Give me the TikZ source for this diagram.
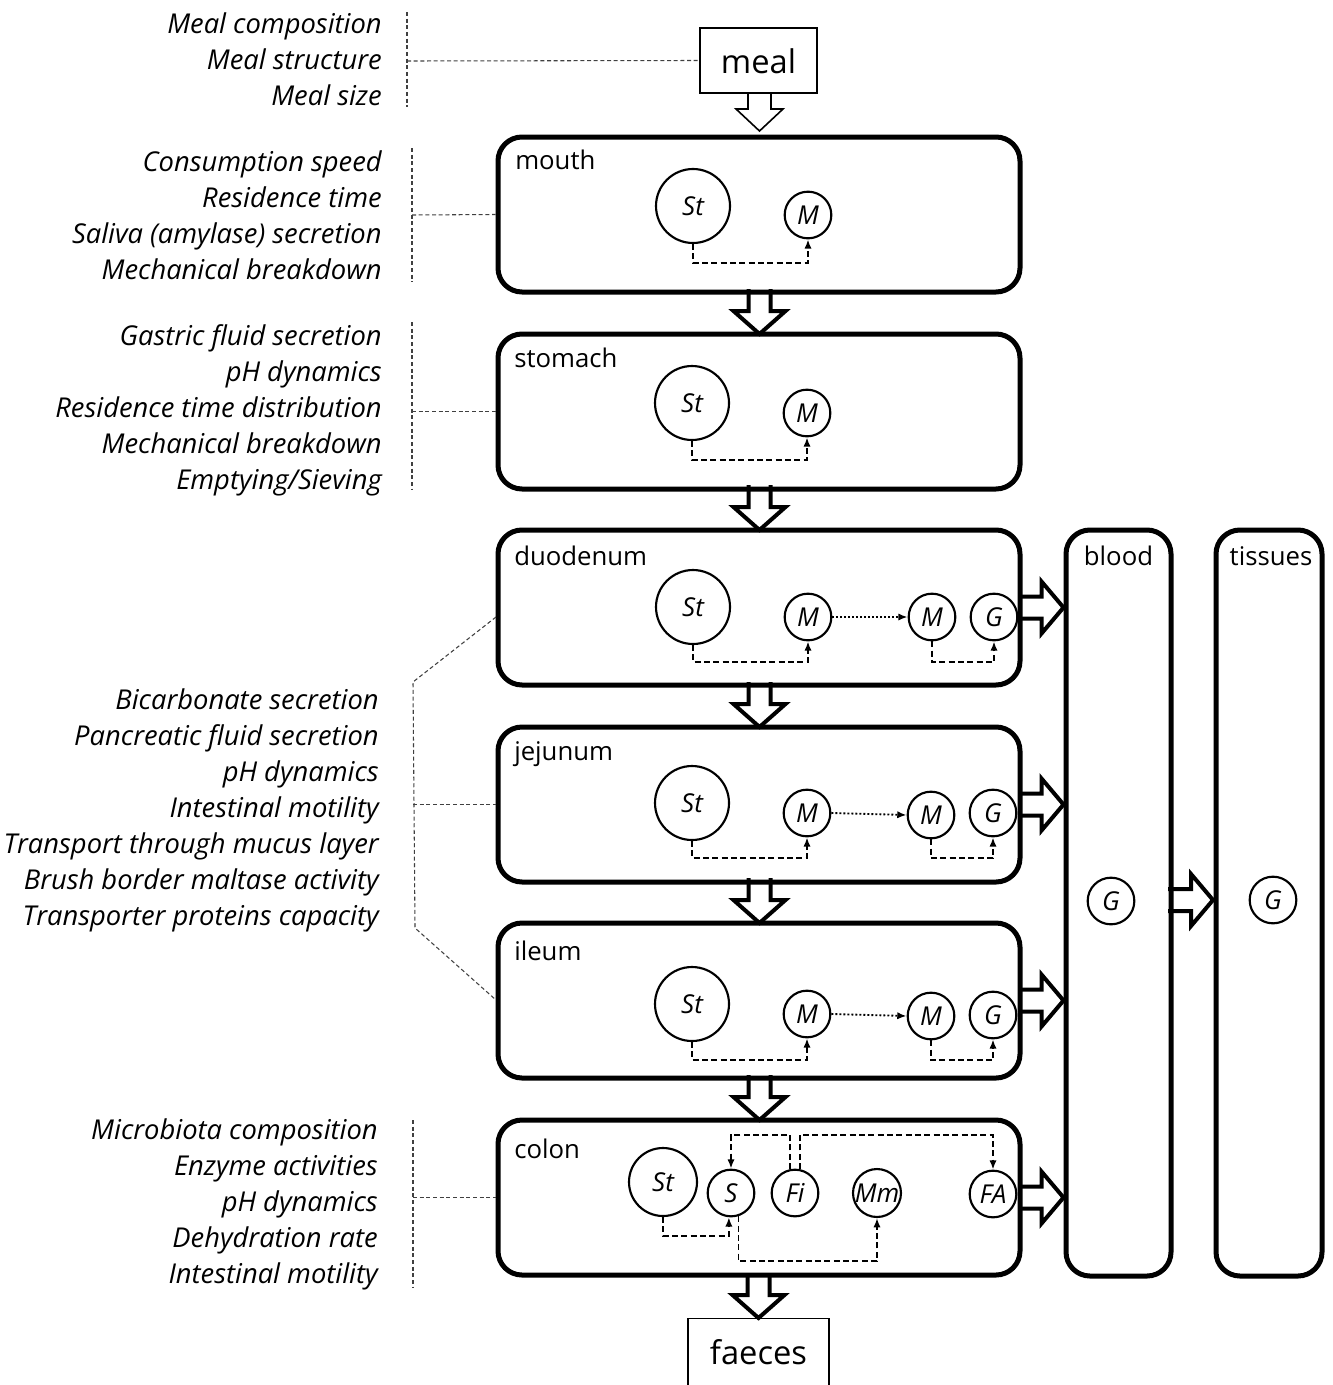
\documentclass[tikz,border=0pt]{standalone}
\usepackage{fontspec}
\setmainfont{Open Sans}
\usetikzlibrary{arrows.meta,calc}
\begin{document}
\begin{tikzpicture}[x=0.75pt,y=-0.75pt,
  gbox/.style={draw, line width=3.75pt, rounded corners=18pt, minimum width=391.5pt, minimum height=116.25pt, inner sep=0pt},
  vbox/.style={draw, line width=3.75pt, rounded corners=18pt, minimum height=559.5pt, inner sep=0pt},
  tbox/.style={draw, line width=1.1pt, inner sep=0pt},
  blab/.style={anchor=base west, inner sep=0pt, font=\fontsize{19.3}{21}\selectfont},
  side/.style={anchor=base east, inner sep=0pt, font=\fontsize{20.5}{22}\selectfont\itshape},
  bigc/.style={circle, draw, line width=1.6pt, minimum size=55.5pt, inner sep=0pt, font=\fontsize{19.5}{18}\selectfont\itshape},
  midc/.style={circle, draw, line width=1.6pt, minimum size=51pt, inner sep=0pt, font=\fontsize{19.5}{18}\selectfont\itshape},
  smc/.style={circle, draw, line width=1.6pt, minimum size=35pt, inner sep=0pt, font=\fontsize{19.5}{18}\selectfont\itshape},
  dasharr/.style={line width=1.4pt, dash pattern=on 4.5pt off 2.5pt, -{Latex[length=7pt,width=5.5pt]}},
  dotarr/.style={line width=1.4pt, dash pattern=on 1.4pt off 1.6pt, -{Latex[length=7pt,width=5.5pt]}},
  lead/.style={line width=0.8pt, black!75, dash pattern=on 3pt off 2pt},
  blk/.style={line width=3pt, line join=miter, miter limit=10},
  darr/.pic={\draw[blk] (-11,-45)--(-11,-23)--(-26,-23)--(0,0)--(26,-23)--(11,-23)--(11,-45);},
  rarr/.pic={\draw[blk] (-45,-11)--(-22,-11)--(-22,-26)--(0,0)--(-22,26)--(-22,11)--(-45,11);}
]
\useasboundingbox (0,0) rectangle (1333,1385);

% ---------- main boxes ----------
\node[gbox] (mouth) at (759,214.5) {};
\node[gbox] (stomach) at (759,411.5) {};
\node[gbox] (duod) at (759,607.5) {};
\node[gbox] (jej) at (759,804.5) {};
\node[gbox] (ileum) at (759,1000.5) {};
\node[gbox] (colon) at (759,1197.5) {};
\node[vbox, minimum width=78.75pt] (blood) at (1118.5,903) {};
\node[vbox, minimum width=79.5pt] (tissues) at (1269,903) {};
\node[tbox, minimum width=87.75pt, minimum height=48.75pt] (meal) at (758.5,60.5) {};
\node[inner sep=0pt, font=\fontsize{24.5}{26}\selectfont] (mealt) at (758.5,61) {meal};
\node[tbox, minimum width=105.75pt, minimum height=60pt, anchor=north] (faeces) at (758.5,1318) {};
\node[inner sep=0pt, font=\fontsize{24.5}{26}\selectfont] (faecest) at (758.5,1352) {faeces};

% ---------- box labels ----------
\node[blab] (lmouth) at (515,169) {mouth};
\node[blab] (lstom) at (514,367) {stomach};
\node[blab] (lduod) at (514,565) {duodenum};
\node[blab] (ljej) at (514,760) {jejunum};
\node[blab] (lile) at (514,960) {ileum};
\node[blab] (lcol) at (514,1158) {colon};
\node[blab, anchor=base] (lblood) at (1118.5,565) {blood};
\node[blab, anchor=base] (ltis) at (1271,565) {tissues};

% ---------- block arrows ----------
\draw[line width=1.2pt, line join=miter] (748,93)--(748,109)--(736,109)--(759.5,131)--(783,109)--(771,109)--(771,93);
\pic at (759.5,334) {darr};
\pic at (759.5,530) {darr};
\pic at (759.5,727) {darr};
\pic at (759.5,923) {darr};
\pic at (759.5,1120) {darr};
\pic at (faeces.north) {darr};
\pic at (blood.west |- duod.east) {rarr};
\pic at (blood.west |- jej.east) {rarr};
\pic at (blood.west |- ileum.east) {rarr};
\pic at (blood.west |- colon.east) {rarr};
\pic at (1213,900) {rarr};

% ---------- mouth ----------
\node[bigc] (mst) at (693,206) {St};
\node[smc] (mm) at (808,215) {M};
\draw[dasharr] (mst.south) -- (mst.south |- 0,263) -| (mm.south);

% ---------- stomach ----------
\node[bigc] (sst) at (692,403) {St};
\node[smc] (sm) at (807,413) {M};
\draw[dasharr] (sst.south) -- (sst.south |- 0,460) -| (sm.south);

% ---------- duodenum ----------
\node[bigc] (dst) at (693,607) {St};
\node[smc] (dm) at (808,617) {M};
\node[smc] (dm2) at (932,617) {M};
\node[smc] (dg) at (994,617) {G};
\draw[dasharr] (dst.south) -- (dst.south |- 0,662) -| (dm.south);
\draw[dasharr] (dm2.south) -- (dm2.south |- 0,662) -| (dg.south);
\draw[dotarr] (dm.east) -- (dm2.west);

% ---------- jejunum ----------
\node[bigc] (jst) at (692,803) {St};
\node[smc] (jm) at (807,813) {M};
\node[smc] (jm2) at (931,815) {M};
\node[smc] (jg) at (993,813) {G};
\draw[dasharr] (jst.south) -- (jst.south |- 0,858) -| (jm.south);
\draw[dasharr] (jm2.south) -- (jm2.south |- 0,858) -| (jg.south);
\draw[dotarr] (jm.east) -- (jm2.west);

% ---------- ileum ----------
\node[bigc] (ist) at (692,1004) {St};
\node[smc] (im) at (807,1014) {M};
\node[smc] (im2) at (931,1016) {M};
\node[smc] (ig) at (993,1015) {G};
\draw[dasharr] (ist.south) -- (ist.south |- 0,1060) -| (im.south);
\draw[dasharr] (im2.south) -- (im2.south |- 0,1060) -| (ig.south);
\draw[dotarr] (im.east) -- (im2.west);

% ---------- colon ----------
\node[midc] (cst) at (663,1182) {St};
\node[smc] (cs) at (731,1193) {S};
\node[smc] (cfi) at (795,1193) {Fi};
\node[smc] (cmm) at (877,1193) {Mm};
\node[smc] (cfa) at (993,1194) {FA};
\draw[dasharr] (cst.south) -- (cst.south |- 0,1236) -| (cs.265);
\draw[dasharr] (cs.288) -- (cs.288 |- 0,1261) -| (cmm.south);
\draw[dasharr] (cfi.101) -- (cfi.101 |- 0,1135) -| (cs.north);
\draw[dasharr] (cfi.79) -- (cfi.79 |- 0,1135) -| (cfa.north);

% ---------- blood / tissues ----------
\node[smc] (bg) at (1111,901) {G};
\node[smc] (tg) at (1273,900) {G};

% ---------- side texts ----------
\foreach \t [count=\i] in {Meal composition, Meal structure, Meal size}
  \node[side] at (382,{23+36*(\i-1)+10}) {\t};
\foreach \t [count=\i] in {Consumption speed, Residence time, Saliva (amylase) secretion, Mechanical breakdown}
  \node[side] at (382,{161+36*(\i-1)+10}) {\t};
\foreach \t [count=\i] in {Gastric fluid secretion, pH dynamics, Residence time distribution, Mechanical breakdown, Emptying/Sieving}
  \node[side] at (382,{335+36*(\i-1)+10}) {\t};
\foreach \t [count=\i] in {Bicarbonate secretion, Pancreatic fluid secretion, pH dynamics, Intestinal motility, Transport through mucus layer, Brush border maltase activity, Transporter proteins capacity}
  \node[side] at (379,{699+36*(\i-1)+10}) {\t};
\foreach \t [count=\i] in {Microbiota composition, Enzyme activities, pH dynamics, Dehydration rate, Intestinal motility}
  \node[side] at (378,{1129+36*(\i-1)+10}) {\t};

% ---------- leader lines ----------
\draw[lead] (407,12) -- (407,107);
\draw[lead] (407,61) -- (meal.west);
\draw[lead] (412,148) -- (412,282);
\draw[lead] (412,215) -- (mouth.west);
\draw[lead] (412,322) -- (412,490);
\draw[lead] (412,411.5) -- (stomach.west);
\coordinate (g4a) at (496,617);
\coordinate (g4b) at (496,1000);
\draw[lead] (g4a) -- (413,682) -- (415,928) -- (g4b);
\draw[lead] (413,804.5) -- (jej.west);
\draw[lead] (413,1120) -- (413,1287);
\draw[lead] (413,1197.5) -- (colon.west);
\end{tikzpicture}
\end{document}
